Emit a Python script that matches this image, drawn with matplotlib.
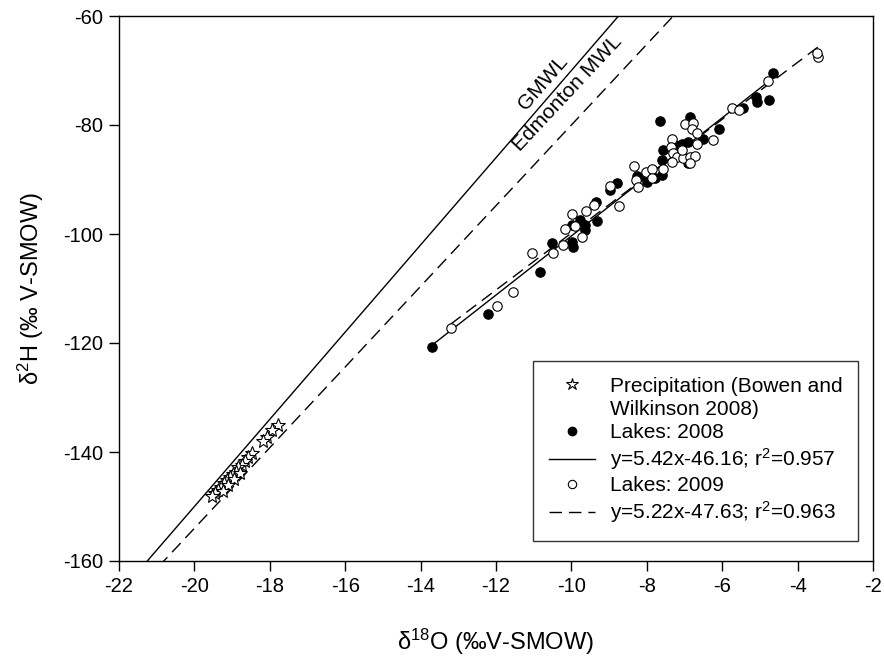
import matplotlib
matplotlib.use("Agg")
import matplotlib.pyplot as plt
import numpy as np
from matplotlib.lines import Line2D

plt.rcParams['font.family'] = ['Liberation Sans', 'DejaVu Sans']
plt.rcParams['mathtext.fontset'] = 'custom'
plt.rcParams['mathtext.rm'] = 'Liberation Sans'
plt.rcParams['mathtext.it'] = 'Liberation Sans'
plt.rcParams['mathtext.default'] = 'regular'
plt.rcParams['axes.unicode_minus'] = False

# Precipitation (Bowen and Wilkinson 2008)
precip_o = [-17.77, -17.95, -18.08, -18.17, -18.48, -18.57, -18.66, -18.75, -18.84,
            -18.90, -18.97, -19.06, -19.13, -19.21, -19.30, -19.37, -19.45, -19.52,
            -18.80, -18.95, -19.10, -19.25]
precip_h = [-135.0, -136.0, -137.2, -138.0, -140.2, -141.0, -141.6, -142.4, -142.8,
            -143.6, -144.0, -144.5, -145.1, -145.7, -146.4, -147.0, -147.6, -148.1,
            -143.8, -145.0, -146.0, -147.2]

# Lakes 2008
l08_o = [-13.71, -12.20, -10.83, -10.52, -9.99, -9.95, -9.99, -9.77, -9.64, -9.64,
         -9.33, -9.35, -8.98, -8.80, -8.25, -8.02, -7.99, -7.65, -7.78, -7.61,
         -7.61, -7.56, -7.25, -7.07, -6.90, -6.90, -6.86, -6.50, -6.08, -5.46,
         -5.10, -5.07, -4.75, -4.64]
l08_h = [-120.7, -114.7, -106.9, -101.7, -101.4, -102.4, -98.3, -97.4, -98.3, -99.3,
         -97.7, -94.1, -91.9, -90.6, -89.4, -89.5, -90.4, -79.2, -89.8, -89.2,
         -86.4, -84.6, -83.7, -83.4, -83.1, -87.0, -78.5, -82.6, -80.8, -76.8,
         -74.9, -75.7, -75.5, -70.5]

# Lakes 2009
l09_o = [-13.20, -11.98, -11.54, -11.05, -10.48, -10.21, -9.73, -10.17, -9.90, -9.99,
         -9.60, -9.40, -8.98, -8.75, -8.34, -8.29, -8.23, -8.02, -7.87, -7.85,
         -7.56, -7.34, -7.37, -7.30, -7.21, -7.34, -7.03, -6.86, -6.72, -6.86,
         -6.99, -6.77, -6.79, -6.66, -6.24, -6.68, -5.75, -5.55, -4.78, -3.45,
         -3.48, -7.06]
l09_h = [-117.3, -113.3, -110.6, -103.4, -103.5, -102.0, -100.5, -99.1, -98.6, -96.3,
         -95.7, -94.6, -91.2, -94.9, -87.5, -90.1, -91.4, -88.6, -88.1, -89.8,
         -88.0, -82.6, -84.0, -85.2, -85.8, -86.7, -86.1, -85.8, -85.7, -86.9,
         -79.8, -79.6, -80.8, -81.5, -82.8, -83.4, -76.9, -77.2, -71.9, -67.5,
         -66.7, -84.6]

# Meteoric water lines and regressions
gmwl_slope, gmwl_int = 8.0, 10.0
emwl_slope, emwl_int = 7.4, -6.0
fit08_slope, fit08_int = 5.42, -46.16
fit09_slope, fit09_int = 5.22, -47.63

xticks = [-22, -20, -18, -16, -14, -12, -10, -8, -6, -4, -2]
yticks = [-160, -140, -120, -100, -80, -60]

fig = plt.figure(figsize=(8.84, 6.57), dpi=100)
ax = fig.add_axes([119/884, 1 - 561/657, (873-119)/884, (561-16)/657])

xg = np.linspace(-22, -2, 200)
ax.plot(xg, gmwl_slope * xg + gmwl_int, color='black', lw=1.0)
ax.plot(xg, emwl_slope * xg + emwl_int, color='black', lw=1.0, dashes=(9, 5))

x08 = np.linspace(min(l08_o), max(l08_o), 50)
ax.plot(x08, fit08_slope * x08 + fit08_int, color='black', lw=1.0)
x09 = np.linspace(min(l09_o), max(l09_o), 50)
ax.plot(x09, fit09_slope * x09 + fit09_int, color='black', lw=1.0, dashes=(9, 5))

ax.plot(l08_o, l08_h, 'o', ms=6.8, mfc='black', mec='black', mew=0.8, ls='none')
ax.plot(l09_o, l09_h, 'o', ms=6.8, mfc='white', mec='black', mew=0.8, ls='none')
ax.plot(precip_o, precip_h, '*', ms=10, mfc='white', mec='black', mew=0.8, ls='none')

ax.text(-10.75, -72.3, 'GMWL', rotation=49.2, ha='center', va='center',
        rotation_mode='anchor', fontsize=15)
ax.text(-10.1, -74.2, 'Edmonton MWL', rotation=46.9, ha='center', va='center',
        rotation_mode='anchor', fontsize=15)

ax.set_xlim(-22, -2)
ax.set_ylim(-160, -60)
ax.set_xticks(xticks)
ax.set_yticks(yticks)
ax.tick_params(direction='out', length=7.5, width=1, labelsize=14.5, pad=4)
for s in ax.spines.values():
    s.set_linewidth(1.0)

ax.set_xlabel('δ$^{18}$O (‰V-SMOW)', fontsize=17, labelpad=22)
ax.set_ylabel('δ$^{2}$H (‰ V-SMOW)', fontsize=17, labelpad=12)

handles = [
    Line2D([], [], marker='*', ms=9, mfc='white', mec='black', mew=0.8, ls='none'),
    Line2D([], [], ls='none'),
    Line2D([], [], marker='o', ms=6, mfc='black', mec='black', ls='none'),
    Line2D([], [], color='black', lw=1.0),
    Line2D([], [], marker='o', ms=6, mfc='white', mec='black', mew=0.8, ls='none'),
    Line2D([], [], color='black', lw=1.0, dashes=(9, 5)),
]
labels = ['Precipitation (Bowen and', 'Wilkinson 2008)', 'Lakes: 2008',
          'y=5.42x-46.16; r$^{2}$=0.957', 'Lakes: 2009',
          'y=5.22x-47.63; r$^{2}$=0.963']
leg = ax.legend(handles, labels, loc='lower right', bbox_to_anchor=(0.980, 0.0367),
                fontsize=15, frameon=True, fancybox=False, edgecolor='black',
                handlelength=2.2, handletextpad=0.72, labelspacing=0.2,
                borderpad=0.75, borderaxespad=0)
leg.get_frame().set_linewidth(1.0)

fig.savefig('out.png', dpi=100)
